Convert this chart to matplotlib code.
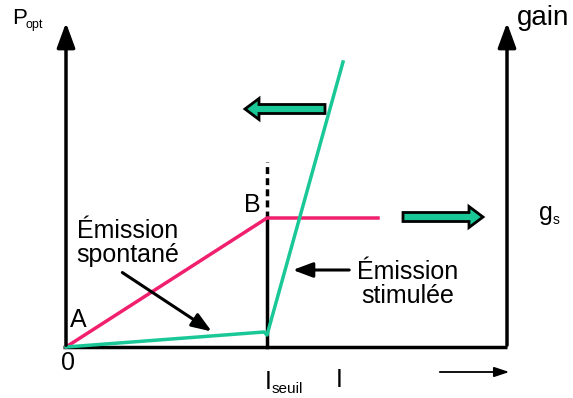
import matplotlib.pyplot as plt

plt.rcParams['font.family'] = ['Liberation Sans', 'DejaVu Sans']

# courant (x) / puissance (y), unités arbitraires
i_seuil = 201
spont_x = [0, 201, 312]
spont_y = [0, 129, 129]
stim_x = [0, 198, 201, 277]
stim_y = [0, 15, 12, 285]
axe_gauche = 0
axe_droit = 441
hauteur_axes = 327
seuil_pointille = 185

pink = '#f0206e'
green = '#19c896'

fig = plt.figure(figsize=(5.73, 3.98), dpi=100)
ax = fig.add_axes([0, 0, 1, 1])
ax.set_xlim(-66, 507)
ax.set_ylim(-51, 347)
ax.axis('off')

# axes
ax.plot([axe_gauche - 3, axe_droit], [0, 0], color='black', lw=2.5, solid_capstyle='butt')
for xa in [axe_gauche, axe_droit]:
    ax.annotate('', xy=(xa, hauteur_axes), xytext=(xa, -1),
                arrowprops=dict(arrowstyle='-|>,head_length=1.5,head_width=0.55', color='black', lw=2.5))
ax.annotate('', xy=(446, -25), xytext=(371, -25),
            arrowprops=dict(arrowstyle='-|>,head_length=0.9,head_width=0.3', color='black', lw=1.3))

# seuil
ax.plot([i_seuil, i_seuil], [0, spont_y[1]], color='black', lw=2.5)
ax.plot([i_seuil, i_seuil], [spont_y[1], seuil_pointille], color='black', lw=2.5, ls=(0, (2, 1.2)))

# courbes
ax.plot(spont_x, spont_y, color=pink, lw=2.5)
ax.plot(stim_x, stim_y, color=green, lw=2.5)

# grosses flèches
ax.arrow(259, 238, -66, 0, width=9, head_width=21, head_length=14,
         facecolor=green, edgecolor='black', lw=2, length_includes_head=False)
ax.arrow(337, 130, 66, 0, width=9, head_width=21, head_length=14,
         facecolor=green, edgecolor='black', lw=2, length_includes_head=False)

# flèches d'annotation
ax.annotate('', xy=(148, 14), xytext=(54, 76),
            arrowprops=dict(arrowstyle='-|>,head_length=1.2,head_width=0.45', color='black', lw=2.2))
ax.annotate('', xy=(224, 77), xytext=(286, 77),
            arrowprops=dict(arrowstyle='-|>,head_length=1.2,head_width=0.45', color='black', lw=2.2))

# textes
fs = 18
ax.text(-54, 329, 'P', fontsize=16, ha='left', va='center')
ax.text(-41, 322, 'opt', fontsize=9, ha='left', va='center')
ax.text(451, 329, 'gain', fontsize=20, ha='left', va='center')
ax.text(473, 134, 'g', fontsize=fs, ha='left', va='center')
ax.text(487, 127, 's', fontsize=10, ha='left', va='center')
ax.text(186, 142, 'B', fontsize=fs, ha='center', va='center')
ax.text(12, 27, 'A', fontsize=fs, ha='center', va='center')
ax.text(2, -16, '0', fontsize=fs, ha='center', va='center')
ax.text(199, -35, 'I', fontsize=fs, ha='left', va='center')
ax.text(206, -42, 'seuil', fontsize=11, ha='left', va='center')
ax.text(270, -33, 'I', fontsize=fs, ha='left', va='center')
ax.text(62, 104, 'Émission\nspontané', fontsize=fs, ha='center', va='center', linespacing=1.05)
ax.text(342, 63, 'Émission\nstimulée', fontsize=fs, ha='center', va='center', linespacing=1.05)

fig.savefig('out.png', dpi=100)
